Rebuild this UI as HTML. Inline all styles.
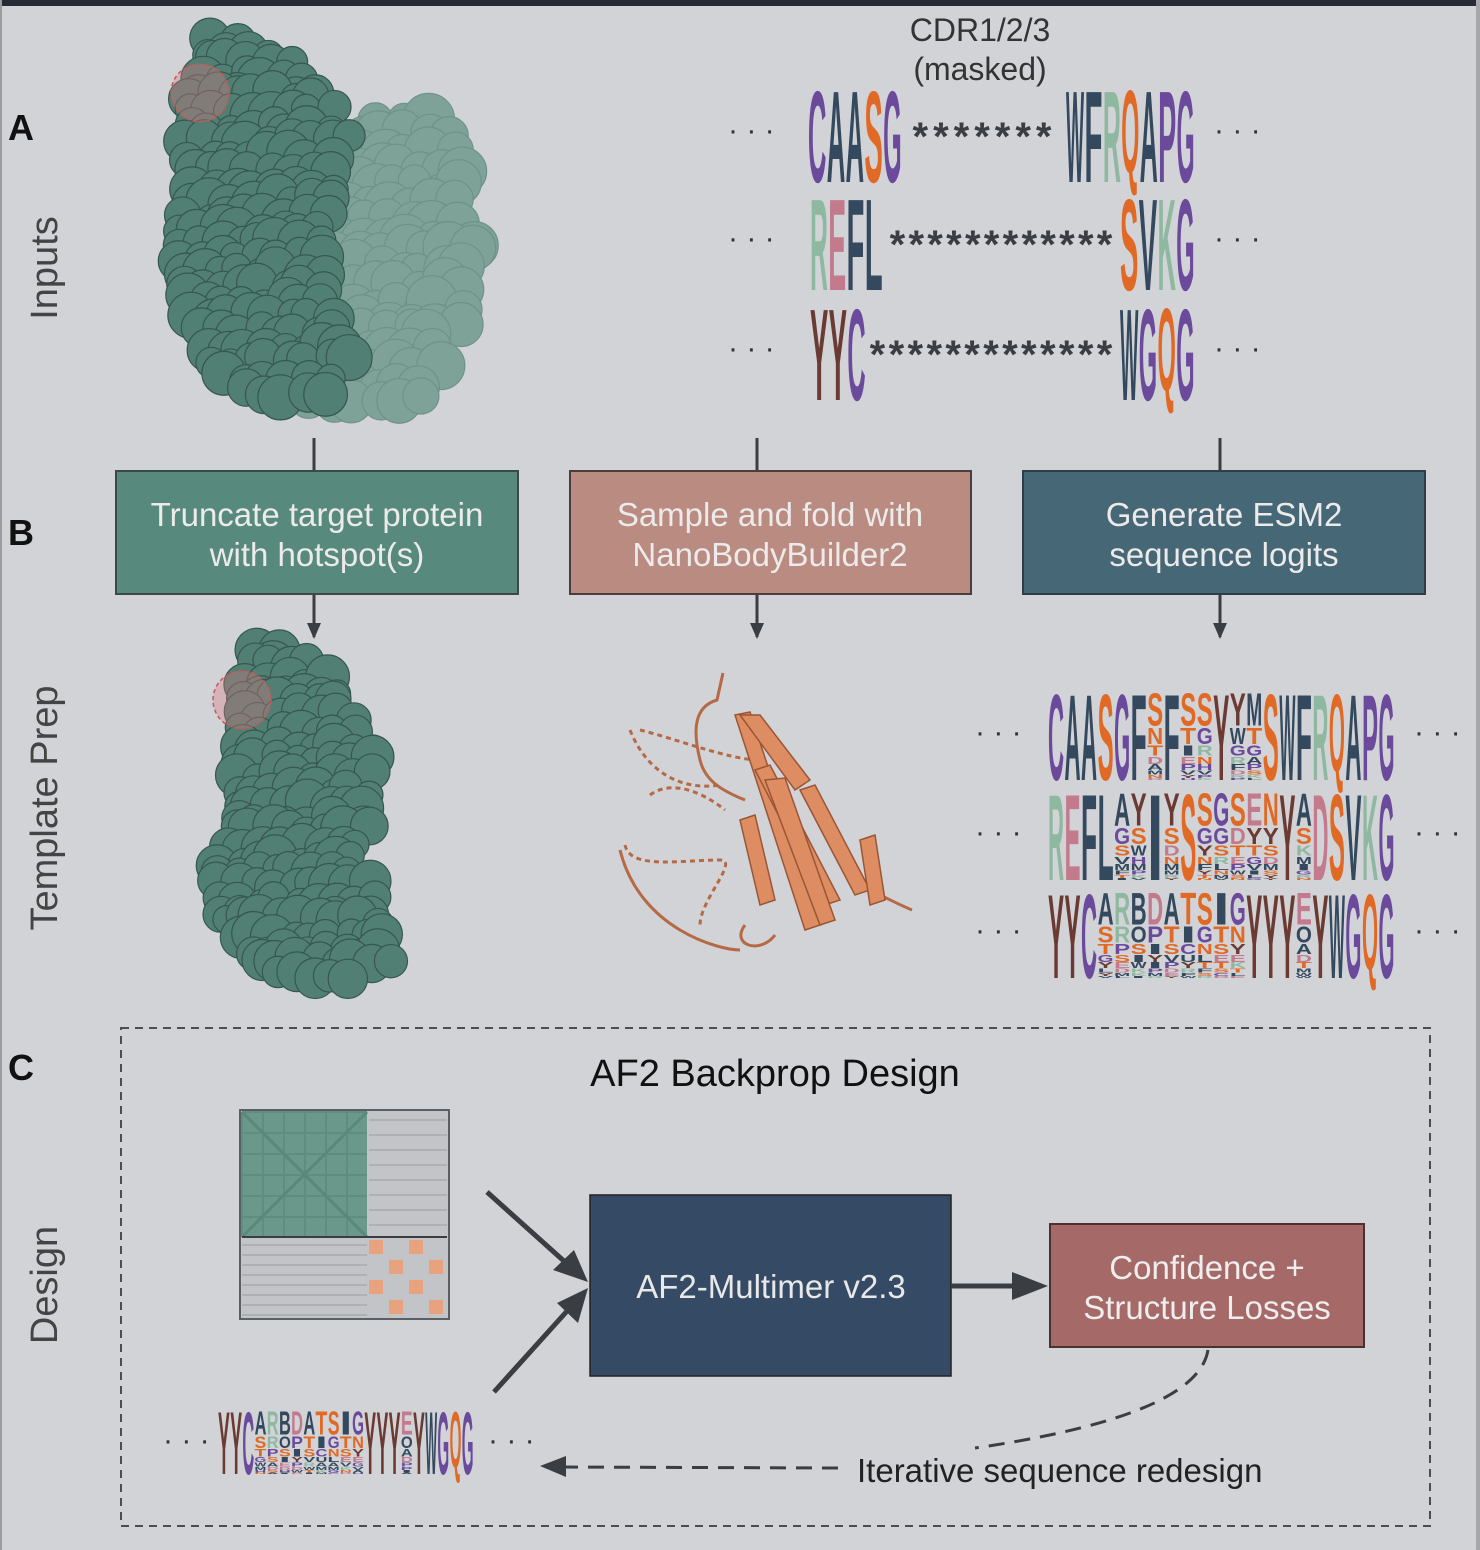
<!DOCTYPE html>
<html><head><meta charset="utf-8">
<style>
html,body{margin:0;padding:0}
body{width:1480px;height:1550px;background:#d1d3d7;position:relative;overflow:hidden;font-family:"Liberation Sans",sans-serif}
svg{position:absolute;left:0;top:0}
</style></head><body>
<svg id="s" width="1480" height="1550" viewBox="0 0 1480 1550" xmlns="http://www.w3.org/2000/svg">
<defs>
<marker id="ah" markerWidth="16" markerHeight="16" refX="14" refY="8" orient="auto" markerUnits="userSpaceOnUse"><path d="M0,1 L16,8 L0,15 z" fill="#3a3d42"/></marker>
</defs>
<rect x="0" y="0" width="1480" height="6" fill="#262b36"/>
<rect x="0" y="0" width="2" height="1550" fill="#9a9ca0"/>
<rect x="1476" y="0" width="4" height="1550" fill="#a5a7ab"/>
<g id="prot"></g>
<g font-family="Liberation Sans, sans-serif">
<text x="8" y="140" font-size="36" font-weight="bold" fill="#111">A</text>
<text x="8" y="545" font-size="36" font-weight="bold" fill="#111">B</text>
<text x="8" y="1080" font-size="36" font-weight="bold" fill="#111">C</text>
<text transform="translate(57,268) rotate(-90)" text-anchor="middle" font-size="38" fill="#444">Inputs</text>
<text transform="translate(57,808) rotate(-90)" text-anchor="middle" font-size="38" fill="#444">Template Prep</text>
<text transform="translate(57,1285) rotate(-90)" text-anchor="middle" font-size="38" fill="#444">Design</text>
<text x="980" y="41" text-anchor="middle" font-size="32" fill="#333">CDR1/2/3</text>
<text x="980" y="80" text-anchor="middle" font-size="32" fill="#333">(masked)</text>
</g>
<g id="logos"></g>
<g stroke="#3a3d42" stroke-width="3" fill="none">
<line x1="314" y1="438" x2="314" y2="471"/><line x1="757" y1="438" x2="757" y2="471"/><line x1="1220" y1="438" x2="1220" y2="471"/>
<line x1="314" y1="594" x2="314" y2="637" marker-end="url(#ah)"/><line x1="757" y1="594" x2="757" y2="637" marker-end="url(#ah)"/><line x1="1220" y1="594" x2="1220" y2="637" marker-end="url(#ah)"/>
</g>
<g font-size="33" fill="#eceaea" text-anchor="middle" font-family="Liberation Sans, sans-serif">
<rect x="116" y="471" width="402" height="123" fill="#578a7c" stroke="#3b4a48" stroke-width="2"/>
<text x="317" y="526">Truncate target protein</text><text x="317" y="566">with hotspot(s)</text>
<rect x="570" y="471" width="401" height="123" fill="#b98b81" stroke="#4a3e3c" stroke-width="2"/>
<text x="770" y="526">Sample and fold with</text><text x="770" y="566">NanoBodyBuilder2</text>
<rect x="1023" y="471" width="402" height="123" fill="#466775" stroke="#2f3e46" stroke-width="2"/>
<text x="1224" y="526">Generate ESM2</text><text x="1224" y="566">sequence logits</text>
</g>
<rect x="121" y="1028" width="1309" height="498" fill="none" stroke="#4a4d52" stroke-width="2" stroke-dasharray="8,6"/>
<text x="775" y="1086" text-anchor="middle" font-size="38" fill="#111">AF2 Backprop Design</text>
<g id="mat"></g>
<rect x="590" y="1195" width="361" height="181" fill="#354a65" stroke="#222" stroke-width="1.5"/>
<text x="771" y="1298" text-anchor="middle" font-size="33" fill="#e8e8e8">AF2-Multimer v2.3</text>
<rect x="1050" y="1224" width="314" height="123" fill="#a56a68" stroke="#4a3230" stroke-width="2"/>
<text x="1207" y="1279" text-anchor="middle" font-size="33" fill="#eee">Confidence +</text>
<text x="1207" y="1319" text-anchor="middle" font-size="33" fill="#eee">Structure Losses</text>
<g stroke="#3a3d42" stroke-width="5" fill="none">
<line x1="487" y1="1192" x2="565" y2="1262"/><line x1="494" y1="1392" x2="568" y2="1310"/><line x1="951" y1="1286" x2="1018" y2="1286"/>
</g>
<path d="M588,1282 L553,1270 L574,1250 z" fill="#3a3d42"/>
<path d="M588,1288 L578,1323 L557,1303 z" fill="#3a3d42"/>
<path d="M1048,1286 L1012,1272 L1012,1300 z" fill="#3a3d42"/>
<path d="M1208,1350 C1200,1400 1100,1430 975,1448" stroke="#3a3d42" stroke-width="3" fill="none" stroke-dasharray="16,10"/>
<line x1="838" y1="1468" x2="560" y2="1467" stroke="#3a3d42" stroke-width="3" stroke-dasharray="16,10"/>
<path d="M540,1466 L566,1456 L566,1477 z" fill="#3a3d42"/>
<text x="857" y="1482" font-size="33" fill="#222">Iterative sequence redesign</text>
</svg>
<script>
var NS="http://www.w3.org/2000/svg";
function el(p,t,a,txt){var e=document.createElementNS(NS,t);for(var k in a)e.setAttribute(k,a[k]);if(txt!=null)e.textContent=txt;p.appendChild(e);return e;}
var seed=7;function rnd(){seed=(seed*16807)%2147483647;return seed/2147483647;}
var C={purple:"#6b4a9c",orange:"#e06a25",navy:"#34495e",brown:"#6b3a32",green:"#8fb8a0",pink:"#c27a8c"};
function col(L){if("CGPH".indexOf(L)>=0)return C.purple;if("STQN".indexOf(L)>=0)return C.orange;if("Y".indexOf(L)>=0)return C.brown;if("RK".indexOf(L)>=0)return C.green;if("ED".indexOf(L)>=0)return C.pink;return C.navy;}
var LG=document.getElementById("logos");
function letter(g,L,x,y,w,h,c){
 var hh=h;if(L=="Q")hh=h*0.9;
 var fs=hh/0.72;el(g,"text",{x:x,y:y+hh,"font-size":fs,"font-weight":"bold",fill:c||col(L),textLength:w,lengthAdjust:"spacingAndGlyphs","font-family":"Liberation Sans, sans-serif"},L);}
function word(g,s,x0,x1,y,h){var w=(x1-x0)/s.length;for(var i=0;i<s.length;i++)letter(g,s[i],x0+i*w,y,w*0.98,h);}
function stars(g,n,x0,x1,y){var w=(x1-x0)/n;for(var i=0;i<n;i++)el(g,"text",{x:x0+i*w+w/2,y:y,"font-size":40,"font-weight":"bold","text-anchor":"middle",fill:"#3a3d42","font-family":"Liberation Sans, sans-serif"},"*");}
function dots(g,x,y){el(g,"text",{x:x,y:y,"font-size":30,fill:"#333","font-family":"Liberation Sans, sans-serif"},"· · ·");}
word(LG,"CAASG",808,902,88,94);stars(LG,7,910,1054,150);word(LG,"WFRQAPG",1066,1195,88,94);
word(LG,"REFL",810,883,196,94);stars(LG,12,888,1114,258);word(LG,"SVKG",1120,1195,196,94);
word(LG,"YYC",810,866,306,94);stars(LG,13,868,1114,368);word(LG,"WGQG",1120,1195,306,94);
[140,248,358].forEach(function(y){dots(LG,728,y);dots(LG,1214,y);});
var POOL="ASTGDNYRLIVEKPHFWMC";
function mlogo(g,cols,x0,x1,y,h){var w=(x1-x0)/cols.length;
 for(var i=0;i<cols.length;i++){var c=cols[i],x=x0+i*w;
  if(c.length==1){letter(g,c,x,y,w*0.97,h);continue;}
  var yy=y,fr=[0.4,0.2,0.13,0.09,0.07,0.05,0.04,0.02];
  for(var j=0;j<fr.length;j++){var L=j<c.length?c[j]:POOL[Math.floor(rnd()*POOL.length)];var hh=fr[j]*h;letter(g,L,x,yy,w*0.97,hh*0.95);yy+=hh;}
 }}
var r1=["C","A","A","S","G","F","SNTD","F","STIE","SGRN","Y","YWGR","MTGA","S","W","F","R","Q","A","P","G"];
var r2=["R","E","F","L","AGSV","YSWH","I","YSDN","S","SGYN","GGSR","SDTE","EYTG","NYSD","Y","AS","D","S","V","K","G"];
var r3=["Y","Y","C","ASTG","RRPS","BOSI","DPIY","ATSV","TICU","SGNL","ITSE","GNYE","Y","Y","Y","EOAD","Y","W","G","Q","G"];
mlogo(LG,r1,1048,1395,692,88);mlogo(LG,r2,1048,1395,792,88);mlogo(LG,r3,1048,1395,892,86);
[742,842,940].forEach(function(y){dots(LG,975,y);dots(LG,1414,y);});
mlogo(LG,r3,218,474,1410,64);dots(LG,163,1450);dots(LG,488,1450);
var P=document.getElementById("prot");
function blob(g,rows,fill,stroke,op,r){var gg=el(g,"g",{opacity:op});
 for(var k=0;k<rows.length-1;k++){var a=rows[k],b=rows[k+1];
  for(var y=a[0];y<b[0];y+=r*0.9){var t=(y-a[0])/(b[0]-a[0]);var xl=a[1]+(b[1]-a[1])*t,xr=a[2]+(b[2]-a[2])*t;
   for(var x=xl+r*0.5;x<xr-r*0.3;x+=r*1.1){el(gg,"circle",{cx:x+(rnd()-0.5)*r*0.6,cy:y+(rnd()-0.5)*r*0.6,r:r*(0.8+rnd()*0.5),fill:fill,stroke:stroke,"stroke-width":1.2});}}}
 return gg;}
blob(P,[[115,370,440],[150,330,475],[250,305,480],[330,290,460],[400,300,430],[410,320,400]],"#7aa095","#6a8f84",0.95,20);
blob(P,[[40,205,240],[60,200,300],[95,185,330],[140,180,355],[200,185,345],[240,170,330],[300,175,340],[360,200,360],[395,240,330]],"#527f73","#35574e",1,18);
el(P,"circle",{cx:200,cy:93,r:29,fill:"rgba(220,120,130,0.35)",stroke:"#c55","stroke-width":1.5,"stroke-dasharray":"4,3"});
blob(P,[[648,250,285],[665,245,320],[700,235,350],[760,230,390],[830,225,380],[870,210,370],[920,215,395],[960,250,395],[990,285,350]],"#527f73","#35574e",1,17);
el(P,"circle",{cx:242,cy:700,r:29,fill:"rgba(220,120,130,0.35)",stroke:"#c55","stroke-width":1.5,"stroke-dasharray":"4,3"});
var R=el(P,"g",{fill:"none",stroke:"#b56a45","stroke-width":3});
["M723,673 L717,700 C700,705 690,720 700,760 C705,780 720,790 745,800","M640,730 C680,740 730,760 760,760","M630,730 C650,780 690,790 720,785","M650,795 C670,780 700,790 725,810","M625,845 C630,870 680,860 720,860 C740,860 700,900 700,925","M620,850 C640,930 720,950 740,950"].forEach(function(d,i){el(R,"path",{d:d,"stroke-dasharray":i>0&&i<5?"5,4":"none"});});
var RF=el(P,"g",{fill:"#de8d63",stroke:"#9a5535","stroke-width":1.5});
["M735,715 L750,712 L820,925 L805,930 z","M740,715 L760,715 L810,780 L795,790 z","M755,770 L770,765 L840,900 L825,905 z","M765,780 L785,778 L835,920 L820,925 z","M740,820 L755,815 L775,900 L760,905 z","M800,790 L815,785 L870,890 L855,895 z","M860,840 L875,835 L885,900 L870,905 z"].forEach(function(d){el(RF,"path",{d:d});});
el(R,"path",{d:"M870,890 C890,900 900,905 912,910"});
el(R,"path",{d:"M745,925 C730,945 760,955 775,935"});
var M=document.getElementById("mat");
el(M,"rect",{x:240,y:1110,width:209,height:209,fill:"#c3c4c7",stroke:"#5a5f66","stroke-width":2});
el(M,"rect",{x:242,y:1112,width:125,height:125,fill:"#6a998c"});
for(var i=0;i<6;i++){el(M,"line",{x1:242,y1:1112+i*21,x2:367,y2:1112+i*21,stroke:"#5f8e81","stroke-width":2});el(M,"line",{x1:242+i*21,y1:1112,x2:242+i*21,y2:1237,stroke:"#5f8e81","stroke-width":2});}
el(M,"line",{x1:242,y1:1112,x2:367,y2:1237,stroke:"#5a887b","stroke-width":3});
el(M,"line",{x1:242,y1:1237,x2:367,y2:1112,stroke:"#5a887b","stroke-width":3});
for(var i=0;i<4;i++)for(var j=0;j<4;j++){if((i+j)%2==0)el(M,"rect",{x:369+i*20,y:1240+j*20,width:14,height:14,fill:"#e8a37e"});}
for(var i=0;i<8;i++){el(M,"line",{x1:369,y1:1120+i*15,x2:447,y2:1120+i*15,stroke:"#a8a9ac","stroke-width":1.5});el(M,"line",{x1:242,y1:1245+i*10,x2:367,y2:1245+i*10,stroke:"#a8a9ac","stroke-width":1.5});}
el(M,"line",{x1:242,y1:1237,x2:447,y2:1237,stroke:"#3a3d42","stroke-width":2});
</script>
</body></html>
